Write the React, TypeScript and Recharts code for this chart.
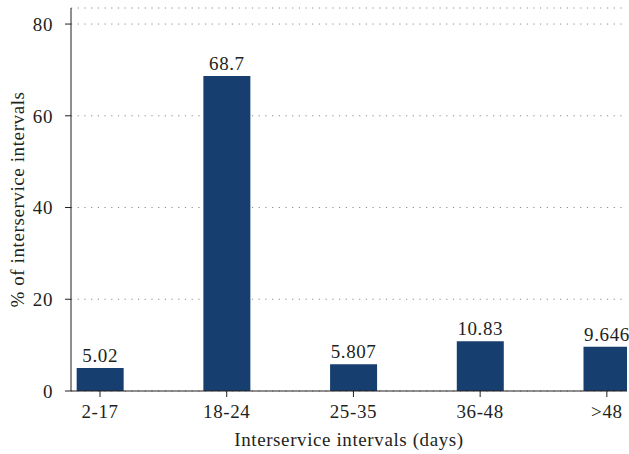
import React from 'react';
import { BarChart, Bar, XAxis, YAxis, CartesianGrid, LabelList } from 'recharts';

const categories = ['2-17', '18-24', '25-35', '36-48', '>48'];
const percentages = [5.02, 68.7, 5.807, 10.83, 9.646];
const valueLabels = ['5.02', '68.7', '5.807', '10.83', '9.646'];
const yTicks = [0, 20, 40, 60, 80];

const data = categories.map((c, i) => ({ pos: i, name: c, value: percentages[i], label: valueLabels[i] }));

const FONT = '"Liberation Serif", "Times New Roman", serif';
const FS = 19;
const LS = 0.6;
const BAR_COLOR = '#163f6f';
const TEXT = '#231f20';

const YLabel = (props: any) => {
  const vb = props.viewBox || {};
  const cx = 17;
  const cy = vb.y + vb.height / 2;
  return (
    <text x={cx} y={cy} transform={`rotate(-90, ${cx}, ${cy})`} textAnchor="middle" dominantBaseline="central"
      fontFamily={FONT} fontSize={FS} letterSpacing={LS} fill={TEXT}>
      % of interservice intervals
    </text>
  );
};

const XLabel = (props: any) => {
  const vb = props.viewBox || {};
  const cx = vb.x + vb.width / 2;
  return (
    <text x={cx} y={446} textAnchor="middle" fontFamily={FONT} fontSize={FS} letterSpacing={LS} fill={TEXT}>
      Interservice intervals (days)
    </text>
  );
};

export default function App() {
  return (
    <div style={{ position: 'absolute', left: 0, top: 0, background: '#fff' }}>
      <BarChart width={629} height={454} data={data} margin={{ top: 8, right: 2, bottom: 0, left: 0 }}>
        <CartesianGrid vertical={false} stroke="#8a8a8a" strokeDasharray="1.2 5.5" />
        <XAxis
          dataKey="pos"
          type="number"
          domain={[-0.229, 4.159]}
          ticks={[0, 1, 2, 3, 4]}
          tickFormatter={(v: number) => categories[v]}
          allowDataOverflow
          height={63}
          stroke="#231f20"
          tickSize={6}
          tickMargin={8}
          tick={{ fontFamily: FONT, fontSize: FS, letterSpacing: LS, fill: TEXT }}
          label={{ content: XLabel }}
        />
        <YAxis
          domain={[0, 83.5]}
          ticks={yTicks}
          width={71}
          stroke="#231f20"
          tickSize={6}
          tickMargin={12}
          allowDataOverflow
          tick={{ fontFamily: FONT, fontSize: FS, letterSpacing: LS, fill: TEXT }}
          label={{ content: YLabel }}
        />
        <Bar dataKey="value" fill={BAR_COLOR} barSize={47} isAnimationActive={false}>
          <LabelList dataKey="label" position="top" offset={6} fontFamily={FONT} fontSize={FS} letterSpacing={LS} fill={TEXT} />
        </Bar>
      </BarChart>
    </div>
  );
}
